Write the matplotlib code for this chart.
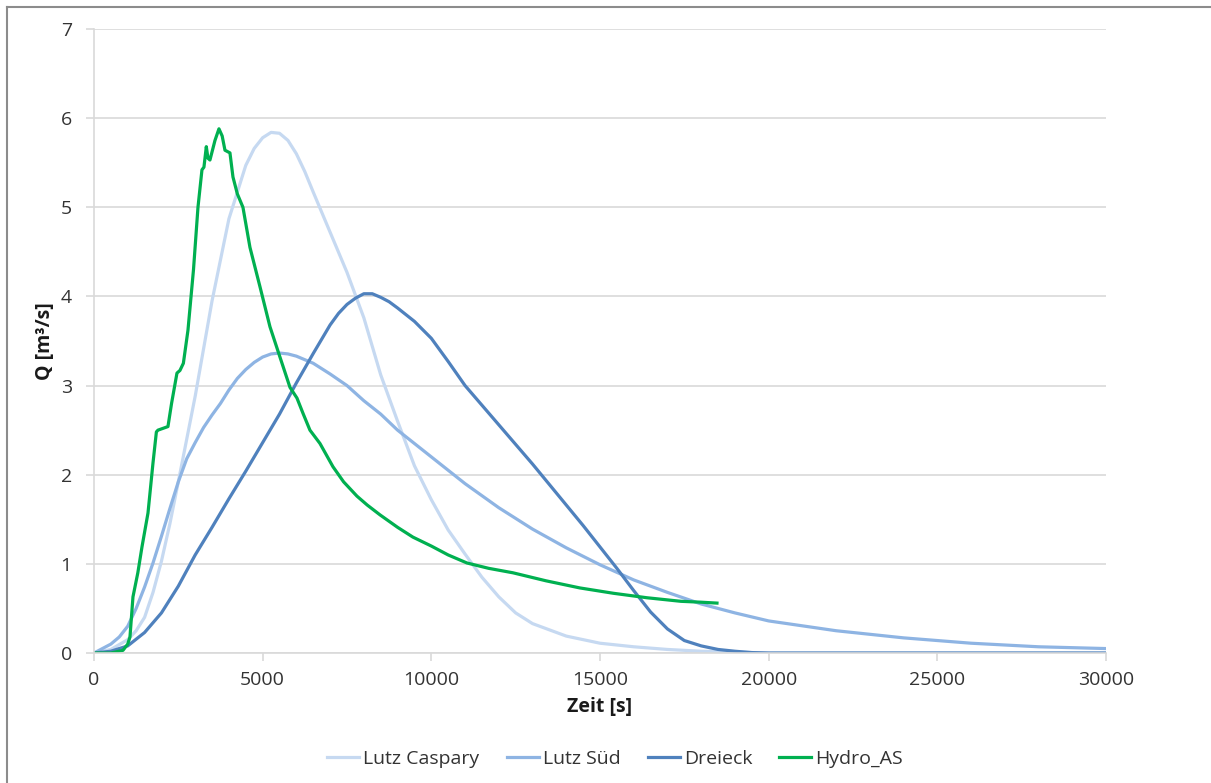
import matplotlib.pyplot as plt
from matplotlib.lines import Line2D

plt.rcParams['font.family'] = ['Open Sans', 'DejaVu Sans']

# Abflussganglinien: Zeit [s] gegen Q [m³/s]
t_caspary = [0, 500, 1000, 1250, 1500, 1750, 2000, 2250, 2500, 3000, 3500, 4000,
             4500, 4750, 5000, 5250, 5500, 5750, 6000, 6250, 6500, 7000, 7500,
             8000, 8500, 9000, 9500, 10000, 10500, 11000, 11500, 12000, 12500,
             13000, 14000, 15000, 16000, 17000, 18000, 19000, 20000, 30000]
q_caspary = [0, 0.04, 0.15, 0.25, 0.4, 0.68, 1.03, 1.45, 1.92, 2.88, 3.95, 4.87,
             5.47, 5.66, 5.78, 5.84, 5.83, 5.75, 5.6, 5.4, 5.17, 4.72, 4.27,
             3.76, 3.12, 2.6, 2.1, 1.72, 1.38, 1.11, 0.85, 0.63, 0.45,
             0.33, 0.19, 0.11, 0.07, 0.04, 0.02, 0.01, 0, 0]

t_sued = [0, 500, 750, 1000, 1250, 1500, 1750, 2000, 2250, 2500, 2750, 3000,
          3250, 3500, 3750, 4000, 4250, 4500, 4750, 5000, 5250, 5500, 5750,
          6000, 6500, 7000, 7500, 8000, 8500, 9000, 9500, 10000, 11000, 12000,
          13000, 14000, 15000, 16000, 17000, 18000, 19000, 20000, 22000, 24000,
          26000, 28000, 30000]
q_sued = [0, 0.1, 0.18, 0.3, 0.5, 0.74, 1.01, 1.31, 1.62, 1.92, 2.18, 2.36,
          2.53, 2.67, 2.8, 2.95, 3.08, 3.18, 3.26, 3.32, 3.355, 3.365, 3.355,
          3.33, 3.25, 3.13, 3.0, 2.83, 2.68, 2.5, 2.35, 2.2, 1.9, 1.63,
          1.39, 1.18, 0.99, 0.82, 0.68, 0.55, 0.45, 0.36, 0.25, 0.17,
          0.11, 0.07, 0.05]

t_dreieck = [0, 500, 1000, 1500, 2000, 2500, 3000, 3500, 4000, 4500, 5000, 5500,
             6000, 6500, 7000, 7250, 7500, 7750, 8000, 8250, 8500, 8750, 9000,
             9500, 10000, 10500, 11000, 11500, 12000, 12500, 13000, 13500, 14000,
             14500, 15000, 15500, 16000, 16500, 17000, 17500, 18000, 18500, 19000,
             19500, 20000, 30000]
q_dreieck = [0, 0.02, 0.08, 0.23, 0.45, 0.75, 1.1, 1.41, 1.73, 2.04, 2.36, 2.68,
             3.03, 3.36, 3.68, 3.81, 3.91, 3.98, 4.03, 4.03, 3.99, 3.94, 3.87,
             3.72, 3.53, 3.27, 3.0, 2.78, 2.56, 2.34, 2.12, 1.89, 1.66,
             1.43, 1.19, 0.95, 0.7, 0.46, 0.27, 0.14, 0.08, 0.04, 0.02,
             0.005, 0, 0]

t_hydro = [0, 500, 860, 1000, 1067, 1156, 1300, 1423, 1601, 1749, 1850, 1897,
           2193, 2300, 2460, 2549, 2650, 2786, 2950, 3083, 3201, 3260, 3330,
           3379, 3438, 3587, 3705, 3800, 3883, 4031, 4120, 4250, 4416, 4624,
           4920, 5217, 5513, 5810, 6017, 6195, 6402, 6700, 7084, 7400, 7795,
           8100, 8478, 9000, 9455, 10000, 10500, 11056, 11700, 12419, 13400,
           14405, 15400, 16392, 17400, 18000, 18468]
q_hydro = [0, 0, 0.03, 0.1, 0.18, 0.63, 0.9, 1.19, 1.57, 2.13, 2.48, 2.5,
           2.54, 2.8, 3.14, 3.17, 3.25, 3.62, 4.3, 5.0, 5.42, 5.45, 5.68,
           5.55, 5.53, 5.75, 5.88, 5.8, 5.64, 5.61, 5.34, 5.15, 5.0, 4.55,
           4.11, 3.66, 3.32, 2.98, 2.86, 2.69, 2.5, 2.35, 2.09, 1.92, 1.76,
           1.66, 1.55, 1.41, 1.3, 1.2, 1.1, 1.01, 0.95, 0.9, 0.81,
           0.73, 0.67, 0.62, 0.58, 0.57, 0.56]

series = [
    ("Lutz Caspary", t_caspary, q_caspary, "#c6d9f1"),
    ("Lutz Süd", t_sued, q_sued, "#8eb4e3"),
    ("Dreieck", t_dreieck, q_dreieck, "#4f81bd"),
    ("Hydro_AS", t_hydro, q_hydro, "#00b050"),
]

x_ticks = [0, 5000, 10000, 15000, 20000, 25000, 30000]
y_ticks = [0, 1, 2, 3, 4, 5, 6, 7]

fig = plt.figure(figsize=(12.11, 7.83), dpi=100)
ax = fig.add_axes((0.0776, 0.166, 0.8357, 0.797))

for name, t, q, col in series:
    ax.plot(t, q, color=col, lw=2.3, label=name, solid_joinstyle="round")

ax.set_xlim(0, 30000)
ax.set_ylim(0, 7)
ax.set_xticks(x_ticks)
ax.set_yticks(y_ticks)
ax.grid(axis="y", color="#d9d9d9", lw=1.2)
ax.set_axisbelow(True)
for s in ("top", "right"):
    ax.spines[s].set_visible(False)
for s in ("left", "bottom"):
    ax.spines[s].set_color("#d9d9d9")
    ax.spines[s].set_linewidth(1.2)
ax.tick_params(axis="both", colors="#d9d9d9", labelcolor="#333333",
               labelsize=14, length=6, width=1.2)
ax.tick_params(axis="x", pad=7)
ax.tick_params(axis="y", pad=10)

ax.set_xlabel("Zeit [s]", fontsize=14, fontweight="bold", color="#1a1a1a", labelpad=6)
ax.set_ylabel("Q [m³/s]", fontsize=14, fontweight="bold", color="#1a1a1a", labelpad=4)

fig.legend(loc="center", bbox_to_anchor=(0.508, 0.031), ncol=4, frameon=False,
           fontsize=14, handlelength=1.65, handletextpad=0.2, columnspacing=1.4,
           labelcolor="#333333")

# Rahmen links und oben
fig.add_artist(Line2D([0.006, 0.006], [0, 0.991], color="#8c8c8c", lw=1.5))
fig.add_artist(Line2D([0.006, 1.0], [0.991, 0.991], color="#8c8c8c", lw=1.5))

fig.savefig("out.png", dpi=100)
